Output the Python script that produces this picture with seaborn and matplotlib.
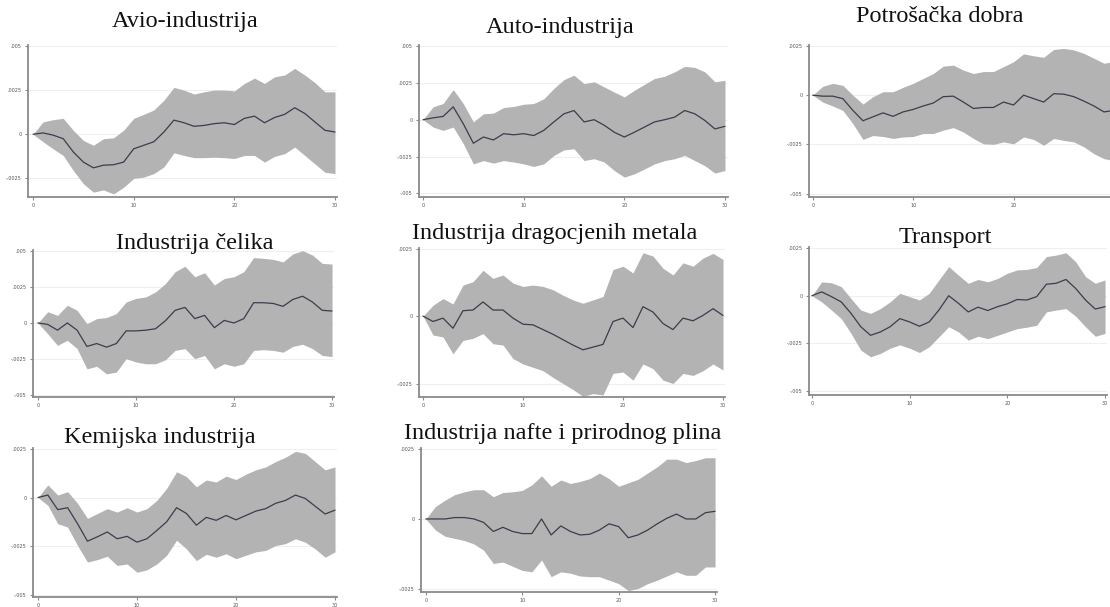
import numpy as np
import pandas as pd
import matplotlib
matplotlib.use("Agg")
import matplotlib.pyplot as plt
import seaborn as sns

# horizon (0..30) and impulse responses, in units of one y-tick step
horizon = list(range(31))

titles = ["Avio-industrija", "Auto-industrija", "Potrošačka dobra",
          "Industrija čelika", "Industrija dragocjenih metala", "Transport",
          "Kemijska industrija", "Industrija nafte i prirodnog plina"]

avio_irf = [0, 0.03, -0.02, -0.1, -0.4, -0.63, -0.76, -0.7, -0.69, -0.63, -0.33, -0.25, -0.17, 0.05, 0.32,
            0.26, 0.18, 0.2, 0.24, 0.26, 0.22, 0.36, 0.41, 0.26, 0.38, 0.45, 0.6, 0.47, 0.28, 0.09, 0.05]
avio_hi = [0, 0.28, 0.33, 0.36, 0.09, -0.14, -0.25, -0.1, -0.08, 0.09, 0.36, 0.45, 0.55, 0.77, 1.06,
           1.0, 0.91, 0.96, 1.0, 1.0, 0.98, 1.15, 1.27, 1.15, 1.3, 1.34, 1.49, 1.34, 1.17, 0.96, 0.96]
avio_lo = [0, -0.17, -0.33, -0.48, -0.82, -1.12, -1.31, -1.26, -1.35, -1.2, -1.0, -0.97, -0.89, -0.74, -0.42,
           -0.48, -0.53, -0.53, -0.52, -0.53, -0.55, -0.48, -0.48, -0.63, -0.5, -0.44, -0.29, -0.48, -0.67, -0.86, -0.89]

auto_irf = [0, 0.05, 0.09, 0.35, -0.11, -0.64, -0.47, -0.55, -0.38, -0.41, -0.38, -0.43, -0.29, -0.06, 0.16,
            0.25, -0.06, 0, -0.15, -0.34, -0.47, -0.34, -0.2, -0.06, 0, 0.07, 0.25, 0.16, -0.02, -0.25, -0.18]
auto_hi = [0, 0.35, 0.44, 0.82, 0.44, -0.06, 0.16, 0.18, 0.33, 0.36, 0.42, 0.44, 0.57, 0.85, 1.09,
           1.21, 0.98, 1.03, 0.89, 0.75, 0.62, 0.8, 0.96, 1.12, 1.18, 1.3, 1.45, 1.42, 1.3, 1.03, 1.07]
auto_lo = [0, -0.2, -0.29, -0.2, -0.65, -1.2, -1.11, -1.18, -1.11, -1.15, -1.2, -1.27, -1.2, -0.97, -0.82,
           -0.79, -1.11, -1.06, -1.15, -1.38, -1.56, -1.47, -1.34, -1.2, -1.11, -1.06, -0.97, -1.11, -1.25, -1.45, -1.38]

potr_irf = [0, -0.02, -0.02, -0.07, -0.31, -0.52, -0.44, -0.36, -0.43, -0.34, -0.29, -0.22, -0.16, -0.03, -0.02,
            -0.14, -0.27, -0.25, -0.25, -0.14, -0.2, 0, -0.07, -0.14, 0.03, 0.02, -0.03, -0.12, -0.22, -0.34, -0.31]
potr_hi = [0, 0.18, 0.24, 0.2, 0, -0.18, -0.03, 0.07, 0.07, 0.16, 0.24, 0.34, 0.44, 0.59, 0.61,
           0.51, 0.44, 0.48, 0.48, 0.58, 0.68, 0.84, 0.8, 0.77, 0.93, 0.95, 0.92, 0.85, 0.75, 0.65, 0.68]
potr_lo = [0, -0.14, -0.22, -0.31, -0.58, -0.9, -0.82, -0.84, -0.88, -0.85, -0.84, -0.78, -0.78, -0.71, -0.66,
           -0.75, -0.88, -0.99, -1.0, -0.95, -0.99, -0.85, -0.9, -1.02, -0.88, -0.92, -0.95, -1.05, -1.19, -1.29, -1.33]

celik_irf = [0, -0.04, -0.2, 0, -0.2, -0.65, -0.57, -0.67, -0.57, -0.22, -0.22, -0.2, -0.16, 0.06, 0.35,
             0.43, 0.12, 0.21, -0.13, 0.07, 0, 0.12, 0.56, 0.56, 0.54, 0.46, 0.65, 0.74, 0.58, 0.35, 0.33]
celik_hi = [0, 0.31, 0.21, 0.49, 0.35, -0.02, 0.12, 0.15, 0.26, 0.58, 0.68, 0.72, 0.86, 1.09, 1.42,
            1.57, 1.28, 1.39, 1.05, 1.23, 1.28, 1.42, 1.81, 1.79, 1.76, 1.69, 1.91, 2.0, 1.88, 1.65, 1.63]
celik_lo = [0, -0.3, -0.62, -0.48, -0.71, -1.27, -1.2, -1.41, -1.36, -0.99, -1.08, -1.13, -1.13, -1.02, -0.76,
            -0.71, -0.99, -0.9, -1.27, -1.13, -1.2, -1.13, -0.76, -0.74, -0.76, -0.81, -0.65, -0.59, -0.71, -0.9, -0.93]

drag_irf = [0, -0.08, -0.03, -0.18, 0.08, 0.09, 0.21, 0.09, 0.09, -0.03, -0.12, -0.13, -0.2, -0.27, -0.35,
            -0.43, -0.5, -0.46, -0.42, -0.08, -0.03, -0.17, 0.14, 0.06, -0.11, -0.2, -0.03, -0.07, 0.01, 0.11, 0.01]
drag_hi = [0, 0.16, 0.26, 0.18, 0.46, 0.51, 0.68, 0.56, 0.61, 0.49, 0.44, 0.46, 0.44, 0.39, 0.31,
           0.24, 0.19, 0.24, 0.29, 0.69, 0.74, 0.64, 0.94, 0.89, 0.71, 0.61, 0.79, 0.74, 0.86, 0.93, 0.84]
drag_lo = [0, -0.28, -0.31, -0.56, -0.36, -0.33, -0.26, -0.41, -0.43, -0.63, -0.71, -0.76, -0.81, -0.91, -1.0,
           -1.09, -1.19, -1.15, -1.17, -0.85, -0.83, -0.95, -0.71, -0.78, -0.95, -1.0, -0.85, -0.88, -0.81, -0.71, -0.8]

trans_irf = [0, 0.08, -0.02, -0.13, -0.37, -0.65, -0.83, -0.76, -0.65, -0.48, -0.55, -0.64, -0.55, -0.3, 0,
             -0.16, -0.34, -0.24, -0.31, -0.23, -0.17, -0.08, -0.09, -0.02, 0.24, 0.26, 0.34, 0.15, -0.09, -0.28, -0.23]
trans_hi = [0, 0.29, 0.27, 0.19, -0.06, -0.3, -0.37, -0.27, -0.13, 0.05, -0.02, -0.09, 0.05, 0.33, 0.61,
            0.43, 0.26, 0.34, 0.29, 0.36, 0.47, 0.54, 0.55, 0.59, 0.82, 0.85, 0.9, 0.71, 0.4, 0.26, 0.33]
trans_lo = [0, -0.13, -0.3, -0.48, -0.79, -1.14, -1.28, -1.21, -1.1, -1.03, -1.1, -1.19, -1.07, -0.86, -0.65,
            -0.76, -0.93, -0.85, -0.9, -0.83, -0.76, -0.69, -0.66, -0.62, -0.34, -0.3, -0.27, -0.43, -0.65, -0.85, -0.79]

kem_irf = [0, 0.05, -0.25, -0.21, -0.54, -0.9, -0.81, -0.71, -0.85, -0.8, -0.92, -0.85, -0.68, -0.5, -0.21,
           -0.33, -0.57, -0.41, -0.47, -0.37, -0.46, -0.37, -0.28, -0.23, -0.12, -0.06, 0.05, -0.02, -0.18, -0.34, -0.26]
kem_hi = [0, 0.26, 0.05, 0.12, -0.12, -0.43, -0.33, -0.23, -0.3, -0.21, -0.3, -0.23, -0.06, 0.19, 0.53,
          0.43, 0.22, 0.36, 0.32, 0.44, 0.37, 0.48, 0.57, 0.63, 0.74, 0.83, 0.95, 0.91, 0.74, 0.57, 0.63]
kem_lo = [0, -0.16, -0.54, -0.61, -0.99, -1.33, -1.28, -1.21, -1.4, -1.37, -1.54, -1.49, -1.37, -1.19, -0.88,
          -1.06, -1.3, -1.17, -1.23, -1.16, -1.26, -1.19, -1.12, -1.09, -0.99, -0.95, -0.85, -0.92, -1.06, -1.23, -1.12]

nafta_irf = [0, 0, 0, 0.02, 0.02, 0, -0.05, -0.18, -0.12, -0.18, -0.21, -0.21, 0, -0.23, -0.1,
             -0.18, -0.23, -0.22, -0.16, -0.07, -0.11, -0.27, -0.23, -0.16, -0.07, 0.01, 0.07, 0, 0, 0.09, 0.11]
nafta_hi = [0, 0.18, 0.27, 0.35, 0.39, 0.42, 0.42, 0.32, 0.38, 0.39, 0.41, 0.49, 0.62, 0.47, 0.56,
            0.51, 0.54, 0.58, 0.66, 0.58, 0.47, 0.52, 0.57, 0.66, 0.75, 0.86, 0.86, 0.81, 0.84, 0.88, 0.88]
nafta_lo = [0, -0.16, -0.25, -0.28, -0.31, -0.36, -0.45, -0.64, -0.62, -0.68, -0.74, -0.76, -0.59, -0.83, -0.76,
            -0.78, -0.82, -0.83, -0.83, -0.88, -0.93, -1.03, -1.0, -0.93, -0.88, -0.82, -0.76, -0.81, -0.81, -0.69, -0.69]

series = [(avio_irf, avio_lo, avio_hi), (auto_irf, auto_lo, auto_hi), (potr_irf, potr_lo, potr_hi),
          (celik_irf, celik_lo, celik_hi), (drag_irf, drag_lo, drag_hi), (trans_irf, trans_lo, trans_hi),
          (kem_irf, kem_lo, kem_hi), (nafta_irf, nafta_lo, nafta_hi)]

# y tick positions / labels per panel
yticks = [[-1, 0, 1, 2], [-2, -1, 0, 1, 2], [-2, -1, 0, 1],
          [-2, -1, 0, 1, 2], [-1, 0, 1], [-2, -1, 0, 1],
          [-2, -1, 0, 1], [-1, 0, 1]]
tick_names = {-2: "-.005", -1: "-.0025", 0: "0", 1: ".0025", 2: ".005"}
xticks = [0, 10, 20, 30]

# layout in pixels: left, top, right, bottom of each axes box, ylim, title centre
W, H = 1110, 607
boxes = [(28, 45, 337, 197), (419, 45, 728, 197), (809, 45, 1116, 197),
         (33, 250, 334, 397), (419, 248, 725, 397), (809, 247, 1107, 395),
         (33, 448, 337, 597), (421, 448, 717, 592)]
xlims = [(-0.5, 30.2), (-0.4, 30.3), (-0.37, 30.2), (-0.5, 30.2),
         (-0.4, 30.2), (-0.3, 30.2), (-0.5, 30.2), (-0.5, 30.2)]
ylims = [(-1.42, 2.02), (-2.1, 2.03), (-2.07, 1.02), (-2.05, 2.02),
         (-1.2, 1.01), (-2.08, 1.02), (-2.05, 1.02), (-1.05, 1.02)]
title_pos = [(185, 22), (560, 27), (940, 17), (195, 243), (555, 233), (945, 237), (160, 438), (563, 433)]

sns.set_style("white")
fig = plt.figure(figsize=(W / 100, H / 100), dpi=100)

band_color = "#b3b3b3"
line_color = "#3c3c4c"
spine_color = "#8a8a8a"

for i, (irf, lo, hi) in enumerate(series):
    l, t, r, b = boxes[i]
    ax = fig.add_axes([l / W, 1 - b / H, (r - l) / W, (b - t) / H])
    df = pd.DataFrame({"h": horizon, "irf": irf, "lo": lo, "hi": hi})
    for yt in yticks[i]:
        ax.axhline(yt, color="#efefef", lw=0.8, zorder=0)
    ax.fill_between(df["h"], df["lo"], df["hi"], color=band_color, lw=0, zorder=1)
    sns.lineplot(data=df, x="h", y="irf", ax=ax, color=line_color, lw=0.9, zorder=2)
    ax.set_xlim(*xlims[i])
    ax.set_ylim(*ylims[i])
    # right-hand column is cut by the picture edge, so its last tick is not shown
    right_px = l + (r - l) * (30 - xlims[i][0]) / (xlims[i][1] - xlims[i][0])
    shown = [v for v in xticks if v < 30 or right_px < W - 4]
    ax.set_xticks(shown)
    ax.set_xticklabels([str(v) for v in shown])
    ax.set_yticks(yticks[i])
    ax.set_yticklabels([tick_names[v] for v in yticks[i]])
    ax.set_xlabel("")
    ax.set_ylabel("")
    for s in ["top", "right"]:
        ax.spines[s].set_visible(False)
    for s in ["left", "bottom"]:
        ax.spines[s].set_color(spine_color)
        ax.spines[s].set_linewidth(1.3)
    ax.tick_params(axis="both", which="major", length=2.5, width=0.8, color=spine_color,
                   labelsize=3.5, labelcolor="#555555", pad=2, direction="out",
                   bottom=True, left=True)
    ax.patch.set_alpha(0)
    tx, ty = title_pos[i]
    fig.text(tx / W, 1 - ty / H, titles[i], ha="center", va="center",
             fontsize=17.5, family=["Liberation Serif", "DejaVu Serif"], color="#111111")

fig.savefig("out.png", dpi=100, facecolor="white")
